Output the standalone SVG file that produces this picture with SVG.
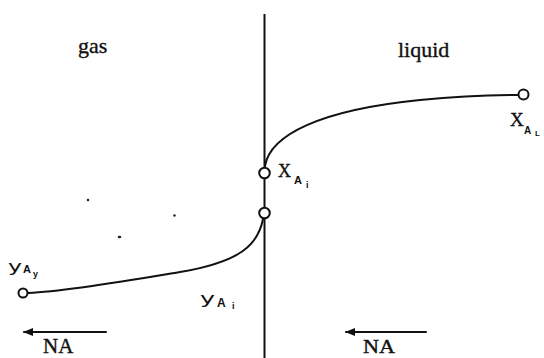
<svg xmlns="http://www.w3.org/2000/svg" width="544" height="358" viewBox="0 0 544 358">
<defs>
<style>
.ln{fill:none;stroke:#111;stroke-width:2;stroke-linecap:round}
.pt{fill:#fff;stroke:#111;stroke-width:2}
.serif{font-family:"Liberation Serif","Times New Roman",serif;fill:#111;stroke:#111;stroke-width:0.35}
.sans{font-family:"DejaVu Sans","Liberation Sans",sans-serif;fill:#111}
.subs{font-family:"Liberation Sans",Arial,sans-serif;fill:#111;font-weight:bold}
</style>
<marker id="ah" viewBox="0 0 10 8" refX="9" refY="4" markerWidth="10" markerHeight="8" markerUnits="userSpaceOnUse" orient="auto">
<path d="M0,0 L10,4 L0,8 Z" fill="#111"/>
</marker>
</defs>
<rect width="544" height="358" fill="#fff"/>
<g id="connectors">
<line id="interface" class="ln" x1="264.5" y1="14" x2="264.5" y2="358" style="stroke-linecap:butt"/>
<path id="liquid-profile" class="ln" d="M265,166 C270,135 320,110 420,100 C460,96 500,95 518,95"/>
<path id="gas-profile" class="ln" d="M263,219 C258,245 240,262 180,272 C138,279 70,291 28,293"/>
<line id="flux-gas" class="ln" x1="106" y1="332" x2="24" y2="332" marker-end="url(#ah)"/>
<line id="flux-liquid" class="ln" x1="426" y1="332" x2="346" y2="332" marker-end="url(#ah)"/>
</g>
<g id="node-xAi"><circle class="pt" cx="264.5" cy="173" r="5.3"/>
<text class="serif" x="278" y="177" font-size="18">X</text>
<text class="subs" x="294" y="184" font-size="11">A</text>
<text class="subs" x="306" y="187.5" font-size="9">i</text></g>
<g id="node-yAi"><circle class="pt" cx="264.5" cy="213" r="5.3"/>
<text class="sans" x="200" y="304" font-size="16" textLength="15" lengthAdjust="spacingAndGlyphs">y</text>
<text class="subs" x="217" y="307" font-size="12" font-weight="normal">A</text>
<text class="subs" x="232" y="309" font-size="9">i</text></g>
<g id="node-yAy"><circle class="pt" cx="23" cy="293" r="4.5"/>
<text class="sans" x="8" y="272" font-size="16" textLength="14" lengthAdjust="spacingAndGlyphs">y</text>
<text class="subs" x="23" y="273" font-size="11" font-weight="normal">A</text>
<text class="subs" x="33" y="277" font-size="9" font-weight="normal">y</text></g>
<g id="node-xAL"><circle class="pt" cx="523.5" cy="94.5" r="5"/>
<text class="serif" x="510" y="126" font-size="19">X</text>
<text class="subs" x="524" y="134" font-size="10">A</text>
<text class="subs" x="535" y="135.5" font-size="8">L</text></g>
<g id="labels">
<text class="serif" x="78" y="53" font-size="22">gas</text>
<text class="serif" x="398" y="57" font-size="22">liquid</text>
<text class="serif" x="43" y="353" font-size="21">NA</text>
<text class="serif" x="363" y="353" font-size="18" textLength="32" lengthAdjust="spacingAndGlyphs">NA</text>
</g>
<g id="specks" fill="#222">
<circle cx="88" cy="200" r="1.3"/>
<circle cx="174.5" cy="215.5" r="1.2"/>
<ellipse cx="119.5" cy="237" rx="1.8" ry="1.3"/>
</g>
</svg>
